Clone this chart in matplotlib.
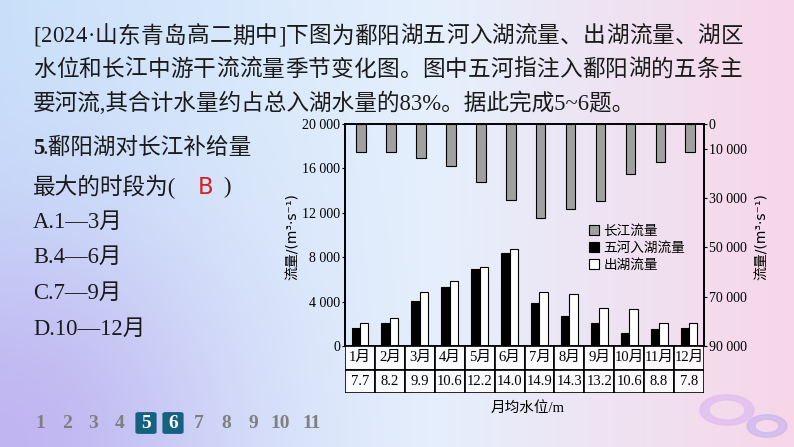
import numpy as np
import matplotlib
matplotlib.use("Agg")
import matplotlib.pyplot as plt
from matplotlib.patches import Rectangle, FancyBboxPatch, Wedge, Patch
from matplotlib.ticker import FuncFormatter

plt.rcParams["font.family"] = ["Liberation Serif", "Noto Sans CJK SC", "DejaVu Sans"]

# ---- data ----
months = ["1月", "2月", "3月", "4月", "5月", "6月", "7月", "8月", "9月", "10月", "11月", "12月"]
water_level = [7.7, 8.2, 9.9, 10.6, 12.2, 14.0, 14.9, 14.3, 13.2, 10.6, 8.8, 7.8]
yangtze_flow = [11200, 11200, 13600, 16900, 23500, 30800, 38300, 34500, 31200, 20200, 15500, 11200]
inflow = [1600, 2100, 4080, 5290, 6960, 8350, 3900, 2700, 2040, 1140, 1500, 1600]
outflow = [2050, 2500, 4840, 5830, 7150, 8770, 4900, 4660, 3450, 3300, 2040, 2050]
left_ticks = [0, 4000, 8000, 12000, 16000, 20000]
right_ticks = [0, 10000, 30000, 50000, 70000, 90000]
series_names = ["长江流量", "五河入湖流量", "出湖流量"]

header_lines = [
    "[2024·山东青岛高二期中]下图为鄱阳湖五河入湖流量、出湖流量、湖区",
    "水位和长江中游干流流量季节变化图。图中五河指注入鄱阳湖的五条主",
    "要河流,其合计水量约占总入湖水量的83%。据此完成5~6题。",
]
options = ["A.1—3月", "B.4—6月", "C.7—9月", "D.10—12月"]
page_numbers = ["1", "2", "3", "4", "5", "6", "7", "8", "9", "10", "11"]
current_pages = ["5", "6"]

W, H = 794, 447
fig = plt.figure(figsize=(W / 100, H / 100), dpi=100)


def fx(x):
    return x / W


def fy(y):
    return 1 - y / H


# ---- slide background: blue -> pink with a purple corner ----
xx = np.linspace(0, 1, W)[None, :, None]
yy = np.linspace(0, 1, H)[:, None, None]
blue = np.array([0.79, 0.88, 0.98])
mid = np.array([0.90, 0.94, 0.99])
pink = np.array([0.97, 0.84, 0.91])
t1 = np.clip(xx / 0.55, 0, 1)
t2 = np.clip((xx - 0.55) / 0.45, 0, 1)
img = np.where(xx < 0.55, blue * (1 - t1) + mid * t1, mid * (1 - t2) + pink * t2)
img = img * np.ones((H, 1, 1))
purple = np.array([0.75, 0.68, 0.94])
wgt = 0.85 * np.exp(-((xx / 0.28) ** 2 + ((1 - yy) / 0.5) ** 2))
img = img * (1 - wgt) + purple * wgt
bg = fig.add_axes([0, 0, 1, 1], zorder=-5)
bg.imshow(np.clip(img, 0, 1), aspect="auto", extent=[0, 1, 0, 1], origin="upper")
bg.set_xlim(0, 1)
bg.set_ylim(0, 1)
bg.axis("off")

# decorative rings bottom right
bg.add_patch(Wedge((fx(727), fy(410)), 27 / W, 0, 360, width=9 / W, color="#dfbcf2", alpha=0.75,
                   transform=bg.transAxes))
bg.add_patch(Wedge((fx(767), fy(426)), 20 / W, 0, 360, width=8 / W, color="#ccb6f0", alpha=0.75,
                   transform=bg.transAxes))


# ---- slide text ----
def put_line(x0, y, s, size, width=None, **kw):
    if width is None:
        fig.text(fx(x0), fy(y), s, fontsize=size, va="center", ha="left", **kw)
        return
    r = fig.canvas.get_renderer()
    arts = [fig.text(0, 0, c, fontsize=size, va="center", ha="left", **kw) for c in s]
    ws = [a.get_window_extent(r).width for a in arts]
    gap = max(0, (width - sum(ws)) / (len(s) - 1))
    x = x0
    for a, w in zip(arts, ws):
        a.set_position((fx(x), fy(y)))
        x += w + gap


put_line(33, 37, header_lines[0], 16.3, width=710, color="#1a1a1a")
put_line(33, 70.5, header_lines[1], 16.3, width=709, color="#1a1a1a")
put_line(33, 103, header_lines[2], 16.3, color="#1a1a1a")

fig.text(fx(33), fy(148), "5", fontsize=16.3, fontweight="bold", va="center", ha="left", color="#1a1a1a")
fig.text(fx(43), fy(148), ".鄱阳湖对长江补给量", fontsize=16.3, va="center", ha="left", color="#1a1a1a")
fig.text(fx(33), fy(187), "最大的时段为(", fontsize=16.3, va="center", ha="left", color="#1a1a1a")
fig.text(fx(206), fy(187), "B", fontsize=16.3, va="center", ha="center", color="#d42020",
         family=["DejaVu Sans"])
fig.text(fx(227), fy(187), ")", fontsize=16.3, va="center", ha="center", color="#1a1a1a")
for i, opt in enumerate(options):
    fig.text(fx(33), fy(222 + 35.7 * i), opt, fontsize=16.3, va="center", ha="left", color="#1a1a1a")

# page navigation
page_x = [40, 67, 93, 120, 146, 173, 199, 226, 253, 280, 312]
for px, num in zip(page_x, page_numbers):
    if num in current_pages:
        bg.add_patch(FancyBboxPatch((fx(px - 9), fy(433)), 18 / W, 20 / H,
                                    boxstyle="round,pad=0.002,rounding_size=0.004",
                                    fc="#16617f", ec="none", transform=bg.transAxes))
        fig.text(fx(px), fy(423), num, fontsize=14, fontweight="bold", color="white",
                 ha="center", va="center")
    else:
        fig.text(fx(px), fy(423), num, fontsize=14, fontweight="bold", color="#7f7f7f",
                 ha="center", va="center")

# ---- chart ----
ax = fig.add_axes([fx(345), fy(346), 359 / W, 222 / H])
ax.patch.set_alpha(0)
x = np.arange(len(months)) + 0.5
ax.bar(x - 0.14, inflow, width=0.28, color="black", edgecolor="black", linewidth=0.8)
ax.bar(x + 0.14, outflow, width=0.28, color="white", edgecolor="black", linewidth=0.8)
ax.set_xlim(0, 12)
ax.set_ylim(0, 20000)
ax.set_xticks([])
ax.set_yticks(left_ticks)
fmt = FuncFormatter(lambda v, p: f"{v:,.0f}".replace(",", " "))
ax.yaxis.set_major_formatter(fmt)
ax.tick_params(axis="y", length=2, pad=1.5, labelsize=10, width=0.8)

ax2 = ax.twinx()
ax2.bar(x + 0.04, yangtze_flow, width=0.32, color="#a0a0a0", edgecolor="black", linewidth=0.8)
ax2.set_ylim(90000, 0)
ax2.set_yticks(right_ticks)
ax2.yaxis.set_major_formatter(fmt)
ax2.tick_params(axis="y", length=2, pad=1.5, labelsize=10, width=0.8)
for a in (ax, ax2):
    for s in a.spines.values():
        s.set_linewidth(1.2)

ylab = "流量/(m³·s⁻¹)"
fig.text(fx(293), fy(237), ylab, rotation=90, fontsize=10, ha="center", va="center",
         family=["DejaVu Sans", "Noto Sans CJK SC"])
fig.text(fx(762), fy(237), ylab, rotation=90, fontsize=10, ha="center", va="center",
         family=["DejaVu Sans", "Noto Sans CJK SC"])

handles = [Patch(fc="#a0a0a0", ec="black", lw=0.8),
           Patch(fc="black", ec="black", lw=0.8),
           Patch(fc="white", ec="black", lw=0.8)]
ax2.legend(handles, series_names, loc="upper left", bbox_to_anchor=(fx(589), fy(225)),
           bbox_transform=fig.transFigure, frameon=False, fontsize=9.8,
           handlelength=0.75, handleheight=0.75, handletextpad=0.3,
           labelspacing=0.3, borderpad=0, borderaxespad=0)

# month / water level table under the axis
tab = fig.add_axes([fx(345), fy(393), 359 / W, 47 / H])
tab.set_xlim(0, 12)
tab.set_ylim(0, 2)
tab.axis("off")
for i, (m, lv) in enumerate(zip(months, water_level)):
    for row, txt in ((1, m), (0, f"{lv:.1f}")):
        tab.add_patch(Rectangle((i, row), 1, 1, fc="white", alpha=0.85, ec="none"))
        tab.add_patch(Rectangle((i, row), 1, 1, fill=False, ec="black", lw=1.2))
        tab.text(i + 0.5, row + 0.5, txt, ha="center", va="center", fontsize=10.5)
fig.text(fx(528), fy(408), "月均水位/m", fontsize=10.5, ha="center", va="center")

fig.savefig("out.png", dpi=100)
